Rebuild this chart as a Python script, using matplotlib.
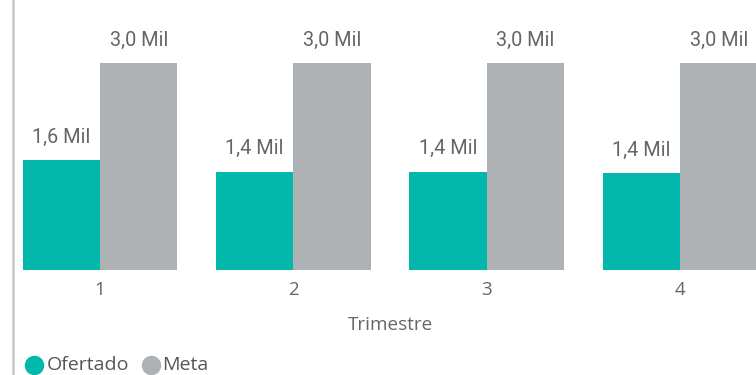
import matplotlib
matplotlib.use("Agg")
import matplotlib.pyplot as plt
from matplotlib.lines import Line2D
import numpy as np

trimestres = ["1", "2", "3", "4"]
ofertado = [1590, 1420, 1420, 1400]
meta = [3000, 3000, 3000, 3000]
ofertado_labels = ["1,6 Mil", "1,4 Mil", "1,4 Mil", "1,4 Mil"]
meta_labels = ["3,0 Mil", "3,0 Mil", "3,0 Mil", "3,0 Mil"]

teal = "#01B8AA"
gray = "#AEB2B4"
txt = "#666666"

fig = plt.figure(figsize=(7.56, 3.75), dpi=100)
ax = fig.add_axes([0, 0.2808, 1, 0.7192])
x = np.arange(len(trimestres))
w = 0.4
ax.bar(x - w / 2, ofertado, width=w, color=teal, linewidth=0)
ax.bar(x + w / 2, meta, width=w, color=gray, linewidth=0)
ax.set_xlim(-0.517, 3.393)
ax.set_ylim(0, 3920)
for s in ax.spines.values():
    s.set_visible(False)
ax.set_yticks([])
ax.set_xticks(x)
ax.set_xticklabels(trimestres, fontsize=13.5, color=txt, family="Open Sans")
ax.tick_params(axis="x", length=0, pad=8)

for xi, v, lab in zip(x, ofertado, ofertado_labels):
    ax.annotate(lab, (xi - w / 2, v), xytext=(0, 10), textcoords="offset points",
                ha="center", va="bottom", fontsize=14.3, color=txt, family="Roboto")
for xi, v, lab in zip(x, meta, meta_labels):
    ax.annotate(lab, (xi + w / 2, v), xytext=(0, 10), textcoords="offset points",
                ha="center", va="bottom", fontsize=14.3, color=txt, family="Roboto")

fig.text(390 / 756, 1 - 325 / 375, "Trimestre", ha="center", va="center",
         fontsize=13.6, color=txt, family="Open Sans")

# legend
ly = 1 - 365 / 375
fig.add_artist(Line2D([34 / 756], [ly], marker="o", markersize=13, color=teal,
                      linestyle="none", transform=fig.transFigure))
fig.text(47 / 756, ly, "Ofertado", ha="left", va="center", fontsize=14,
         color="#555555", family="Open Sans")
fig.add_artist(Line2D([151 / 756], [ly], marker="o", markersize=13, color=gray,
                      linestyle="none", transform=fig.transFigure))
fig.text(162 / 756, ly, "Meta", ha="left", va="center", fontsize=14,
         color="#555555", family="Open Sans")

# left border line
fig.add_artist(Line2D([12.5 / 756, 12.5 / 756], [0, 1], color="#C8C8C8",
                      linewidth=1.8, transform=fig.transFigure))

fig.savefig("out.png", dpi=100)
